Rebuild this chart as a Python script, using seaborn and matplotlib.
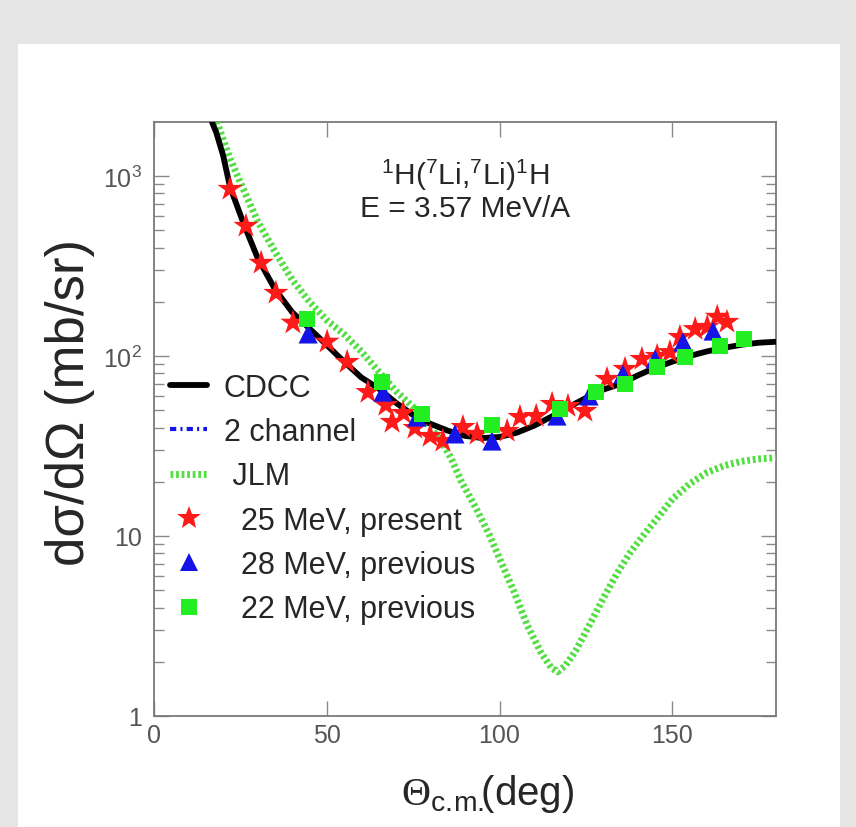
import matplotlib
matplotlib.use("Agg")
import matplotlib.pyplot as plt
import seaborn as sns
import numpy as np
from matplotlib.lines import Line2D
from matplotlib.patches import Rectangle
from matplotlib.ticker import FixedLocator, FixedFormatter, LogLocator, NullFormatter, NullLocator

# ---------------- data ----------------
cdcc_theta = [16.8, 18, 20, 22, 26, 30, 35, 40, 45, 50, 55, 60, 65, 70, 75, 80, 85, 90, 95,
              100, 105, 110, 115, 120, 125, 130, 135, 140, 145, 150, 155, 160, 165, 170, 175, 180]
cdcc_xs = [1990, 1750, 1300, 870, 540, 350, 235, 175, 142, 115, 93, 76, 66, 55, 47, 42, 38.5, 36, 35,
           35.5, 37.5, 41, 46, 52, 58.5, 65, 70, 78, 86, 93, 100, 106, 111, 115.5, 118.5, 120]

two_ch_theta = [16.8, 18, 20, 22, 26, 30, 35, 40, 45, 50, 55, 60, 65, 70, 75, 80, 85, 90, 95,
                100, 105, 110, 115, 120, 125, 130, 135, 140, 145, 150, 155, 160, 165, 170, 175, 180]
two_ch_xs = [1990, 1750, 1300, 870, 540, 350, 235, 175, 142, 115, 93, 76, 66, 55, 47, 42, 38.5, 36, 35,
             35.5, 37.5, 41, 46, 52, 58.5, 65, 70, 78, 86, 93, 100, 106, 111, 115.5, 118.5, 120]

jlm_theta = [18.2, 20, 22, 25, 30, 35, 40, 45, 50, 55, 60, 65, 70, 75, 80, 83, 86, 89, 93, 97,
             100, 104, 108, 112, 115, 116.8, 119, 122, 126, 130, 134, 138, 142, 146, 150, 155,
             160, 165, 170, 175, 180]
jlm_xs = [2000, 1600, 1250, 920, 560, 380, 265, 200, 158, 132, 106, 82, 64, 52, 40, 34, 27, 20, 14.5, 10.2,
          7.5, 5.0, 3.2, 2.25, 1.85, 1.76, 1.9, 2.3, 3.2, 4.5, 6.2, 8.2, 10.3, 12.8, 16, 19.5,
          22.5, 24.6, 26, 26.8, 27.2]

present_theta = [22.0, 26.6, 31.0, 35.3, 40.2, 50.1, 55.9, 61.9, 67.1, 68.9, 72.1, 75.5, 79.9, 83.6,
                 89.4, 93.5, 102.2, 105.9, 110.6, 115.2, 119.8, 124.7, 131.1, 136.3, 141.2, 145.6,
                 149.3, 152.2, 156.6, 160.1, 163.0, 165.8]
present_xs = [847, 528, 329, 224, 153, 120, 92.6, 63, 53.4, 43, 48.2, 39.8, 35.9, 33.7,
              40.3, 36.9, 38.3, 45.8, 46.4, 54.1, 52.7, 49.5, 74.5, 84.7, 96.2, 100,
              105, 127.5, 141, 145, 165, 154.5]

prev28_theta = [44.6, 66.3, 76.1, 87.1, 97.8, 116.6, 125.9, 135.7, 145.0, 153.1, 161.8]
prev28_xs = [132.6, 63, 45.8, 36.9, 33.7, 46.4, 60, 79.4, 96.2, 119.7, 137.6]

prev22_theta = [44.3, 66.0, 77.6, 97.8, 117.5, 127.9, 136.3, 145.6, 153.7, 163.8, 170.8]
prev22_xs = [160.6, 71.7, 47.6, 41.4, 50.8, 63, 69.9, 86.9, 98.7, 113.6, 124.3]

legend_labels = ["CDCC", "2 channel", " JLM", "  25 MeV, present", "  28 MeV, previous", "  22 MeV, previous"]
y_tick_vals = [1, 10, 100, 1000]
y_tick_labels = ["1", "10", r"$10^{2}$", r"$10^{3}$"]
x_tick_vals = [0, 50, 100, 150]
x_tick_labels = ["0", "50", "100", "150"]

# ---------------- style ----------------
sns.set_style("ticks")
plt.rcParams['font.family'] = ['Liberation Sans', 'DejaVu Sans']
plt.rcParams['mathtext.fontset'] = 'custom'
plt.rcParams['mathtext.rm'] = 'Liberation Sans'
plt.rcParams['mathtext.it'] = 'Liberation Sans:italic'
plt.rcParams['mathtext.bf'] = 'Liberation Sans:bold'
plt.rcParams['mathtext.cal'] = 'Liberation Serif'

W, H = 856, 828
fig = plt.figure(figsize=(W / 100, H / 100), dpi=100)
fig.patch.set_facecolor('#e6e6e6')
bg = Rectangle((18 / W, 0), (840 - 18) / W, (828 - 45) / H,
               transform=fig.transFigure, facecolor='white', edgecolor='none', zorder=-10)
fig.patches.append(bg)

ax = fig.add_axes([154 / W, 1 - 717 / H, (776 - 154) / W, (717 - 123) / H])
ax.set_zorder(5)
ax.set_facecolor('white')

red = '#ff1a1a'
blue = '#1414e6'
green_pt = '#22ee22'
green_ln = '#55dd44'

sns.lineplot(x=two_ch_theta, y=two_ch_xs, ax=ax, color=blue, lw=3,
             linestyle=(0, (1.5, 1.0, 0.5, 1.0)), zorder=2)
sns.lineplot(x=jlm_theta, y=jlm_xs, ax=ax, color=green_ln, lw=5,
             linestyle=(0, (0.4, 0.4)), dash_capstyle='butt', zorder=3)
sns.lineplot(x=cdcc_theta, y=cdcc_xs, ax=ax, color='black', lw=4.2, zorder=4)

sns.scatterplot(x=present_theta, y=present_xs, ax=ax, marker='*', s=360, color=red,
                edgecolor='none', zorder=5)
sns.scatterplot(x=prev28_theta, y=prev28_xs, ax=ax, marker='^', s=190, color=blue,
                edgecolor='none', zorder=6)
sns.scatterplot(x=prev22_theta, y=prev22_xs, ax=ax, marker='s', s=130, color=green_pt,
                edgecolor='none', zorder=6)

ax.set_yscale('log')
ax.set_xlim(0, 180)
ax.set_ylim(1, 10 ** 3.3)

ax.xaxis.set_major_locator(FixedLocator(x_tick_vals))
ax.xaxis.set_major_formatter(FixedFormatter(x_tick_labels))
ax.xaxis.set_minor_locator(NullLocator())
ax.yaxis.set_major_locator(FixedLocator(y_tick_vals))
ax.yaxis.set_major_formatter(FixedFormatter(y_tick_labels))
ax.yaxis.set_minor_locator(LogLocator(base=10, subs=np.arange(2, 10)))
ax.yaxis.set_minor_formatter(NullFormatter())

tick_col = '#8a8a8a'
ax.tick_params(which='both', direction='in', top=True, right=True, color=tick_col,
               labelcolor='#555555', labelsize=18, width=1.0)
ax.tick_params(which='major', length=11)
ax.tick_params(which='minor', length=7)
ax.tick_params(axis='x', pad=5)
ax.tick_params(axis='y', pad=9)
for sp in ax.spines.values():
    sp.set_color('#7a7a7a')
    sp.set_linewidth(1.3)

ax.set_ylabel("dσ/dΩ (mb/sr)", fontsize=38)
ax.yaxis.set_label_coords(-0.095, 0.53)
ax.set_xlabel(r"$\mathcal{\Theta}_{\rm c.\!m.\!}\!$(deg)", fontsize=29)
ax.xaxis.set_label_coords(0.537, -0.094)

ax.text(0.5, 0.896, r"$^{1}$H($^{7}$Li,$^{7}$Li)$^{1}$H", transform=ax.transAxes,
        ha='center', va='baseline', fontsize=21.5)
ax.text(0.5, 0.842, "E = 3.57 MeV/A", transform=ax.transAxes,
        ha='center', va='baseline', fontsize=21.5)

handles = [
    Line2D([], [], color='black', lw=4.2),
    Line2D([], [], color=blue, lw=3, linestyle=(0, (1.5, 1.0, 0.5, 1.0))),
    Line2D([], [], color=green_ln, lw=5, linestyle=(0, (0.4, 0.4)), dash_capstyle='butt'),
    Line2D([], [], color=red, marker='*', ls='none', ms=18, mew=0),
    Line2D([], [], color=blue, marker='^', ls='none', ms=13, mew=0),
    Line2D([], [], color=green_pt, marker='s', ls='none', ms=11, mew=0),
]
ax.legend(handles, legend_labels, loc='upper left', bbox_to_anchor=(0.026, 0.578),
          frameon=False, fontsize=22, handlelength=1.2, handletextpad=0.55,
          labelspacing=0.47, borderpad=0, borderaxespad=0)

fig.savefig("out.png", dpi=100, facecolor=fig.get_facecolor())
